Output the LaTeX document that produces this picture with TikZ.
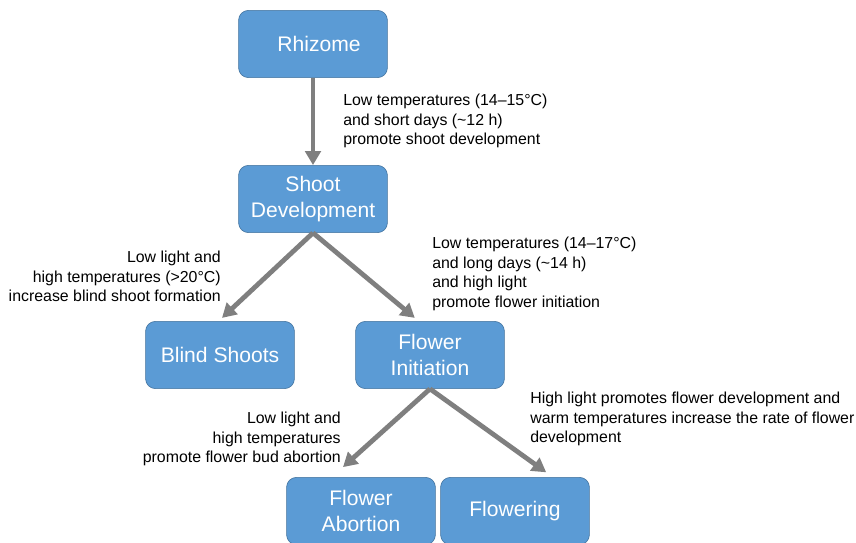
\documentclass[tikz,border=0pt]{standalone}
\usepackage{fontspec}
\setmainfont{Liberation Sans}
\usetikzlibrary{arrows.meta}
\definecolor{boxblue}{HTML}{5B9BD5}
\definecolor{boxedge}{HTML}{41719C}
\definecolor{arrowgrey}{HTML}{7F7F7F}
\tikzset{
	stagebox/.style={draw=boxedge, fill=boxblue, rounded corners=7pt, text=white, align=center,
		minimum width=3.72cm, minimum height=1.68cm, font=\fontsize{15}{18.5}\selectfont},
	note/.style={inner sep=0pt, font=\fontsize{11.3}{13.8}\selectfont},
	flowarrow/.style={draw=arrowgrey, line width=3.4pt, -{Triangle[length=10pt,width=11pt]}}
}

\begin{document}
\begin{tikzpicture}[x=0.025cm, y=-0.025cm]
\useasboundingbox (0, 0) rectangle (856, 543);

\node[stagebox] (rhizome) at (313, 44) {\hspace{0.3cm}Rhizome};
\node[stagebox] (shoot) at (313, 199) {Shoot\\Development};
\node[stagebox] (blind) at (220, 355) {Blind Shoots};
\node[stagebox] (init) at (430, 355) {Flower\\Initiation};
\node[stagebox] (abort) at (361, 511) {Flower\\Abortion};
\node[stagebox] (flowering) at (515, 511) {Flowering};

\draw[flowarrow] (rhizome.south) -- (shoot.north);
\draw[flowarrow] (shoot.south) -- ([xshift=0.05cm, yshift=0.08cm]blind.north);
\draw[flowarrow] (shoot.south) -- ([xshift=-0.38cm, yshift=0.08cm]init.north);
\draw[flowarrow] (init.south) -- ([xshift=-0.45cm, yshift=0.25cm]abort.north);
\draw[flowarrow] (init.south) -- ([xshift=0.78cm, yshift=0.12cm]flowering.north);

\node[note, anchor=north west, align=left] (n1) at (343, 94)
	{Low temperatures (14--15°C)\\and short days (\textasciitilde12 h)\\promote shoot development};
\node[note, anchor=north east, align=right] (n2) at (221, 251)
	{Low light and\\high temperatures (>20°C)\\increase blind shoot formation};
\node[note, anchor=north west, align=left] (n3) at (432, 237)
	{Low temperatures (14--17°C)\\and long days (\textasciitilde14 h)\\and high light\\promote flower initiation};
\node[note, anchor=north west, align=left] (n4) at (530, 392)
	{High light promotes flower development and\\warm temperatures increase the rate of flower\\development};
\node[note, anchor=north east, align=right] (n5) at (341, 412)
	{Low light and\\high temperatures\\promote flower bud abortion};
\end{tikzpicture}
\end{document}
